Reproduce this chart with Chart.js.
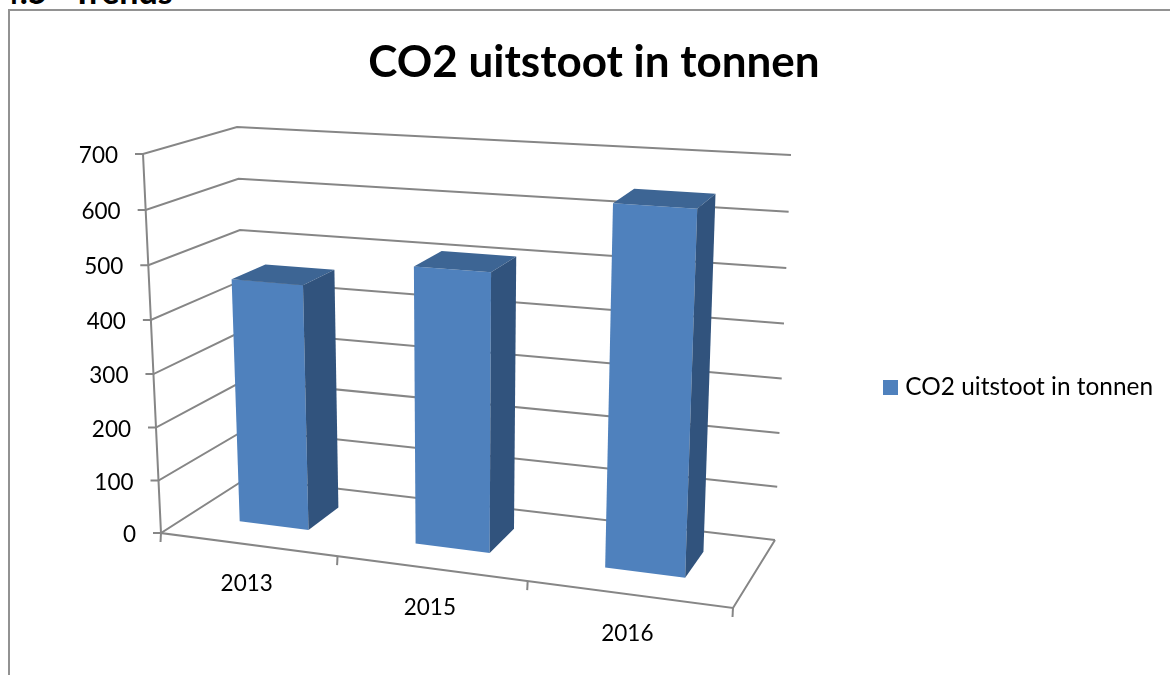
<!DOCTYPE html>
<html>
<head>
<meta charset="utf-8">
<title>CO2 uitstoot in tonnen</title>
<script src="https://cdn.jsdelivr.net/npm/chart.js@4"></script>
<style>
  html, body { margin: 0; padding: 0; background: #fff; overflow: hidden; }
  #page { position: relative; width: 1170px; height: 675px; overflow: hidden; }
  .heading { position: absolute; top: -30px; font: bold 34px Lato, sans-serif; color: #000; white-space: pre; }
  #frame { position: absolute; left: 8px; top: 9px; width: 1300px; height: 800px; border: 2px solid #929292; }
  canvas { position: absolute; left: 0; top: 0; }
</style>
</head>
<body>
<div id="page">
  <div class="heading" style="left: 0px">4.5</div>
  <div class="heading" style="left: 72px">Trends</div>
  <div id="frame"></div>
  <canvas id="myChart" width="1170" height="675"></canvas>
</div>
<script>
// data ---------------------------------------------
const categories = ["2013", "2015", "2016"];
const co2Tonnen = [460, 510, 645];
const seriesName = "CO2 uitstoot in tonnen";
const yMax = 700;
const yStep = 100;

// 3d box the plot gets projected on ----------------
const box = {
  frontBottomL: [161, 533], frontBottomR: [733, 608],
  backBottomL: [247, 478], backBottomR: [775, 540],
  frontTopL: [143, 154], frontTopR: [750, 192],
  backTopL: [237, 127], backTopR: [791, 155],
};
const widthWarp = 0.893;
const heightWarp = 0.963;
const barDepth = [0.33, 0.72];

const lineColor = "#868686";
const frontColor = "#4F81BD";
const topColor = "#3D6594";
const sideColor = "#31537D";
const labelFont = "22.5px Lato, sans-serif";

function lerp(a, b, t) {
  return [a[0] + (b[0] - a[0]) * t, a[1] + (b[1] - a[1]) * t];
}

function warp(t, k) {
  return (k * t) / (1 + (k - 1) * t);
}

// u = along the categories, d = depth, v = height, all 0..1
function project(u, d, v) {
  const uu = warp(u, widthWarp);
  const vv = warp(v, heightWarp);
  const bottom = lerp(
    lerp(box.frontBottomL, box.frontBottomR, uu),
    lerp(box.backBottomL, box.backBottomR, uu),
    d
  );
  const top = lerp(
    lerp(box.frontTopL, box.frontTopR, uu),
    lerp(box.backTopL, box.backTopR, uu),
    d
  );
  return lerp(bottom, top, vv);
}

function polyline(ctx, points) {
  ctx.beginPath();
  points.forEach((p, i) => (i ? ctx.lineTo(p[0], p[1]) : ctx.moveTo(p[0], p[1])));
  ctx.stroke();
}

function face(ctx, points, color) {
  ctx.beginPath();
  points.forEach((p, i) => (i ? ctx.lineTo(p[0], p[1]) : ctx.moveTo(p[0], p[1])));
  ctx.closePath();
  ctx.fillStyle = color;
  ctx.fill();
}

// legend square sits closer to the text than chart.js would put it
const legendMarker = document.createElement("canvas");
legendMarker.width = 15;
legendMarker.height = 15;
const markerCtx = legendMarker.getContext("2d");
markerCtx.fillStyle = frontColor;
markerCtx.fillRect(0, 0, 15, 15);

const box3d = {
  id: "box3d",
  beforeDatasetsDraw(chart) {
    const ctx = chart.ctx;
    const yScale = chart.scales.y;
    const area = chart.chartArea;
    ctx.save();
    ctx.strokeStyle = lineColor;
    ctx.lineWidth = 2;

    // walls, one line per y tick
    yScale.ticks.forEach((tick) => {
      const v = (area.bottom - yScale.getPixelForValue(tick.value)) / area.height;
      const a = project(0, 0, v);
      polyline(ctx, [[a[0] - 8, a[1]], a, project(0, 1, v), project(1, 1, v)]);
      ctx.fillStyle = "#000";
      ctx.font = labelFont;
      ctx.textAlign = "right";
      ctx.textBaseline = "middle";
      ctx.fillText(tick.label, a[0] - 25, a[1] + 2);
    });

    // axis lines and floor
    polyline(ctx, [project(0, 0, 1), project(0, 0, 0), project(1, 0, 0), project(1, 1, 0)]);

    // category ticks and labels
    const n = categories.length;
    for (let i = 0; i <= n; i++) {
      const p = project(i / n, 0, 0);
      polyline(ctx, [p, [p[0] - 0.5, p[1] + 9]]);
    }
    categories.forEach((c, i) => {
      const xPixel = chart.scales.x.getPixelForValue(i);
      const p = project((xPixel - area.left) / area.width, 0, 0);
      ctx.fillStyle = "#000";
      ctx.font = labelFont;
      ctx.textAlign = "center";
      ctx.textBaseline = "middle";
      ctx.fillText(c, p[0] - 1, p[1] + 39);
    });
    ctx.restore();
  },
  beforeDatasetDraw(chart, args) {
    const ctx = chart.ctx;
    const area = chart.chartArea;
    const [d0, d1] = barDepth;
    args.meta.data.forEach((bar) => {
      const u0 = (bar.x - bar.width / 2 - area.left) / area.width;
      const u1 = (bar.x + bar.width / 2 - area.left) / area.width;
      const v = (area.bottom - bar.y) / area.height;
      ctx.save();
      face(ctx, [project(u0, d0, v), project(u1, d0, v), project(u1, d0, 0), project(u0, d0, 0)], frontColor);
      face(ctx, [project(u0, d0, v), project(u0, d1, v), project(u1, d1, v), project(u1, d0, v)], topColor);
      face(ctx, [project(u1, d0, v), project(u1, d1, v), project(u1, d1, 0), project(u1, d0, 0)], sideColor);
      ctx.restore();
    });
    return false;
  },
};

const myChart = new Chart(document.getElementById("myChart").getContext("2d"), {
  type: "bar",
  plugins: [box3d],
  data: {
    labels: categories,
    datasets: [
      {
        label: seriesName,
        data: co2Tonnen,
        backgroundColor: frontColor,
        categoryPercentage: 1,
        barPercentage: 0.4,
      },
    ],
  },
  options: {
    responsive: false,
    animation: false,
    layout: { padding: { left: 25, right: 7, top: 0, bottom: 0 } },
    scales: {
      x: { display: false },
      y: { display: false, min: 0, max: yMax, ticks: { stepSize: yStep } },
    },
    plugins: {
      tooltip: { enabled: false },
      title: {
        display: true,
        text: seriesName,
        color: "#000",
        font: { family: "Lato, sans-serif", size: 44, weight: "bold" },
        padding: { top: 36, bottom: 11 },
      },
      legend: {
        position: "right",
        fullSize: false,
        labels: {
          usePointStyle: true,
          pointStyle: legendMarker,
          pointStyleWidth: 5,
          boxHeight: 15,
          padding: 10,
          color: "#000",
          font: { family: "Lato, sans-serif", size: 24.4 },
        },
      },
    },
  },
});
</script>
</body>
</html>
